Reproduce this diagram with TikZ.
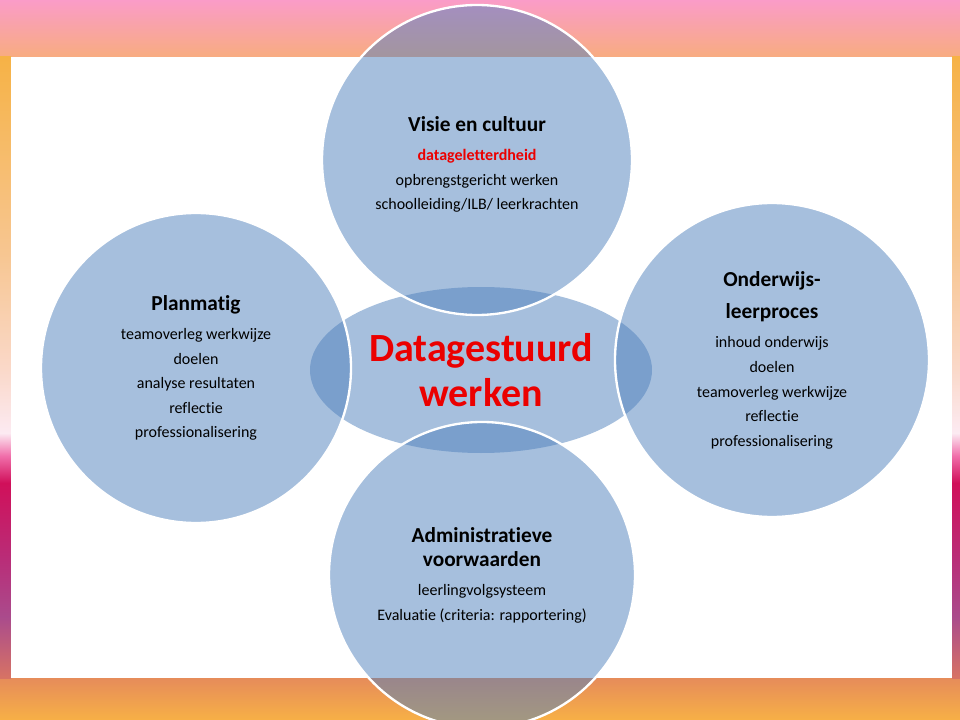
\documentclass[tikz,border=0pt]{standalone}
\usepackage{fontspec}
\setmainfont{Carlito}[Ligatures={NoCommon,NoRequired,NoContextual},RawFeature=-calt,RawFeature=-clig,RawFeature=-dlig]
\usetikzlibrary{shapes}

\definecolor{blauw}{RGB}{79,129,189}
\definecolor{rood}{RGB}{235,0,0}
\definecolor{roze}{RGB}{250,156,200}
\definecolor{zalm}{RGB}{248,172,128}
\definecolor{oranje}{RGB}{246,178,70}
\definecolor{licht}{RGB}{247,198,145}
\definecolor{perzik}{RGB}{250,216,200}
\definecolor{bleek}{RGB}{252,234,242}
\definecolor{fel}{RGB}{240,110,170}
\definecolor{karmijn}{RGB}{208,16,90}
\definecolor{magenta}{RGB}{185,45,120}
\definecolor{paars}{RGB}{170,75,140}
\definecolor{roest}{RGB}{215,115,100}
\definecolor{koper}{RGB}{230,140,90}
\definecolor{goud}{RGB}{247,176,70}

\newcommand{\kopje}[1]{{\fontsize{16}{18.4}\selectfont\bfseries #1}}

\begin{document}
\begin{tikzpicture}[x=0.75pt,y=-0.75pt,
bol/.style={circle,draw=white,line width=1.75pt,fill=blauw,fill opacity=0.5,text opacity=1,inner sep=0pt,align=center,font=\fontsize{12}{18.4}\selectfont},
kern/.style={ellipse,fill=blauw,fill opacity=0.5,text opacity=1,inner sep=0pt,align=center,text=rood,font=\fontsize{30}{34}\selectfont\bfseries}
]

\useasboundingbox (0,0) rectangle (960,720);
\shade[top color=roze,bottom color=zalm] (0,0) rectangle (960,57);
\shade[top color=koper,bottom color=goud] (0,678) rectangle (960,720);
\foreach \ya/\yb/\ca/\cb in {57/253/oranje/licht,253/368/licht/perzik,368/433/perzik/bleek,433/456/bleek/fel,456/483/fel/karmijn,483/559/karmijn/magenta,559/617/magenta/paars,617/678/paars/roest}{
  \shade[top color=\ca,bottom color=\cb] (0,\ya) rectangle (11,\yb);
  \shade[top color=\ca,bottom color=\cb] (952,\ya) rectangle (960,\yb);
}
\fill[white] (11,57) rectangle (952,678);

\node[kern,minimum width=256.5pt,minimum height=124.5pt] (dw) at (481,370) {Datagestuurd\\werken};

\node[bol,minimum size=232.5pt] (visie) at (477,160) {\mbox{}\\
  \kopje{Visie en cultuur}\\[3.4pt]
  {\bfseries\color{rood}datageletterdheid}\\
  opbrengstgericht werken\\
  schoolleiding/ILB/ leerkrachten};
\node[bol,minimum size=232.5pt] (plan) at (196,368) {\kopje{Planmatig}\\[3.4pt]
  teamoverleg werkwijze\\
  doelen\\
  analyse resultaten\\
  reflectie\\
  professionalisering};
\node[bol,minimum size=235.5pt] (ol) at (772,360) {\kopje{Onderwijs-}\\[5.6pt]
  \kopje{leerproces}\\[4pt]
  inhoud onderwijs\\
  doelen\\
  teamoverleg werkwijze\\
  reflectie\\
  professionalisering};
\node[bol,minimum size=229.5pt] (adm) at (482,575) {\kopje{Administratieve}\\
  \kopje{voorwaarden}\\[3.4pt]
  leerlingvolgsysteem\\
  Evaluatie (criteria: rapportering)};
\end{tikzpicture}
\end{document}
